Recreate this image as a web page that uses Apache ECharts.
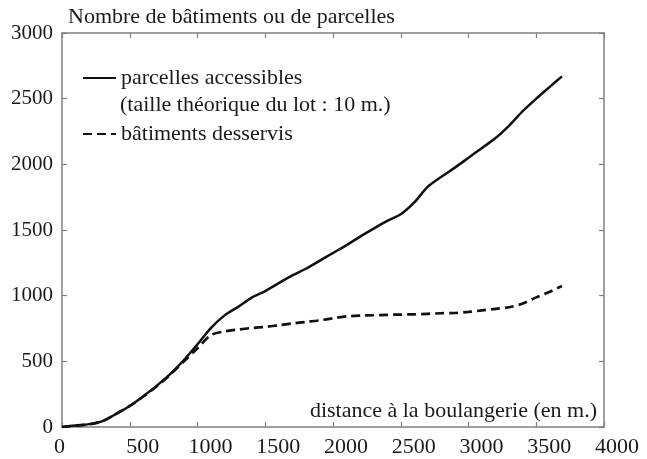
<!DOCTYPE html>
<html>
<head>
<meta charset="utf-8">
<style>html,body{margin:0;padding:0;background:#fff;}#c{width:647px;height:459px;}</style>
<script src="https://cdn.jsdelivr.net/npm/echarts@6/dist/echarts.min.js"></script>
</head>
<body>
<div id="c"></div>
<script>
// Data
const distances = [0,100,200,300,400,500,600,700,800,900,1000,1100,1200,1300,1400,1500,1600,1700,1800,1900,2000,2100,2200,2300,2400,2500,2600,2700,2800,2900,3000,3100,3200,3300,3400,3500,3600,3690];
const parcellesAccessibles = [0,12,22,45,100,160,235,315,405,510,630,755,850,915,985,1035,1095,1155,1205,1265,1325,1385,1450,1510,1570,1620,1710,1830,1905,1975,2050,2125,2200,2295,2405,2500,2590,2670];
const batimentsDesservis = [0,10,20,45,100,160,232,310,400,500,600,700,728,742,754,762,775,788,800,812,828,842,848,851,854,856,858,862,866,868,876,888,900,912,940,987,1030,1074];
const xTicks = [0,500,1000,1500,2000,2500,3000,3500,4000];
const yTicks = [0,500,1000,1500,2000,2500,3000];
const seriesNames = ['parcelles accessibles','bâtiments desservis'];
const legendNote = '(taille théorique du lot : 10 m.)';
const yTitle = 'Nombre de bâtiments ou de parcelles';
const xTitle = 'distance à la boulangerie (en m.)';

const FONT = 'Liberation Serif';
const TXT = '#1a1a1a';
const AX = '#808080';

const pairs = (xs, ys) => xs.map((x, i) => [x, ys[i]]);

const axisLineStyle = { show: true, onZero: false, lineStyle: { color: AX, width: 1.5 } };
const tickStyle = { show: true, inside: true, length: 5, lineStyle: { color: AX, width: 1.2 } };

const legendCommon = {
  itemWidth: 33, itemHeight: 14, selectedMode: false, padding: 0,
  itemStyle: { opacity: 0 },
  textStyle: { fontFamily: FONT, fontSize: 22, color: TXT, lineHeight: 22 }
};

const chart = echarts.init(document.getElementById('c'), null, { renderer: 'canvas' });
chart.setOption({
  animation: false,
  backgroundColor: '#fff',
  grid: { left: 62, right: 43, top: 33, bottom: 32, containLabel: false, outerBoundsMode: 'none' },
  legend: [
    Object.assign({ data: [seriesNames[0]], left: 82, top: 67 }, legendCommon),
    Object.assign({ data: [seriesNames[1]], left: 82, top: 123 }, legendCommon)
  ],
  graphic: [
    {
      type: 'text', left: 120, top: 94,
      style: { text: legendNote, font: '22px "' + FONT + '"', fill: TXT }
    },
    {
      type: 'text', right: 50, top: 400,
      style: { text: xTitle, font: '22px "' + FONT + '"', fill: TXT }
    }
  ],
  xAxis: [
    {
      type: 'value', min: xTicks[0], max: xTicks[xTicks.length - 1], interval: 500,
      position: 'bottom',
      axisLine: axisLineStyle, axisTick: tickStyle, splitLine: { show: false },
      axisLabel: {
        margin: 9, fontFamily: FONT, fontSize: 22, color: TXT,
        formatter: v => v === 0 ? '{z|0}' : '{a|' + String(v) + '}',
        rich: {
          a: { fontFamily: FONT, fontSize: 22, color: TXT, padding: [0, 0, 0, 26] },
          z: { fontFamily: FONT, fontSize: 22, color: TXT, padding: [0, 5, 0, 0] }
        }
      }
    },
    {
      type: 'value', min: xTicks[0], max: xTicks[xTicks.length - 1], interval: 500,
      position: 'top',
      axisLine: axisLineStyle, axisTick: tickStyle, splitLine: { show: false },
      axisLabel: { show: false }
    }
  ],
  yAxis: [
    {
      type: 'value', min: yTicks[0], max: yTicks[yTicks.length - 1], interval: 500,
      position: 'left',
      axisLine: axisLineStyle, axisTick: tickStyle, splitLine: { show: false },
      axisLabel: { margin: 9, fontFamily: FONT, fontSize: 21, color: TXT, formatter: v => String(v) },
      name: yTitle, nameLocation: 'end', nameGap: 16,
      nameTextStyle: { fontFamily: FONT, fontSize: 22, color: TXT, align: 'left', verticalAlign: 'middle', padding: [0, 0, 0, 6] }
    },
    {
      type: 'value', min: yTicks[0], max: yTicks[yTicks.length - 1], interval: 500,
      position: 'right',
      axisLine: axisLineStyle, axisTick: tickStyle, splitLine: { show: false },
      axisLabel: { show: false }
    }
  ],
  series: [
    {
      name: seriesNames[0], type: 'line', xAxisIndex: 0, yAxisIndex: 0,
      data: pairs(distances, parcellesAccessibles), symbol: 'none', smooth: 0.3,
      lineStyle: { color: '#111', width: 2.5, type: 'solid' }, itemStyle: { color: '#111' }
    },
    {
      name: seriesNames[1], type: 'line', xAxisIndex: 0, yAxisIndex: 0,
      data: pairs(distances, batimentsDesservis), symbol: 'none', smooth: 0.3,
      lineStyle: { color: '#111', width: 2.7, type: [9, 5] }, itemStyle: { color: '#111' }
    }
  ]
});
</script>
</body>
</html>
